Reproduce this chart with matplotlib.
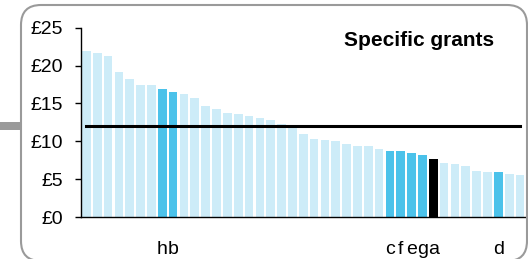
import matplotlib.pyplot as plt
from matplotlib.patches import FancyBboxPatch, Rectangle

plt.rcParams['font.family'] = ['Liberation Sans', 'DejaVu Sans']

# per-authority specific grant values (sorted), £
values = [21.9, 21.65, 21.25, 19.15, 18.2, 17.4, 17.4, 16.9, 16.5, 16.25,
          15.7, 14.65, 14.25, 13.75, 13.6, 13.35, 13.05, 12.8, 12.3, 11.95,
          10.95, 10.3, 10.15, 10.05, 9.65, 9.35, 9.35, 9.0, 8.7, 8.7,
          8.45, 8.2, 7.65, 7.15, 7.0, 6.75, 6.05, 5.95, 5.95, 5.7, 5.55]
labels = [""] * 41
labels[7] = "h"
labels[8] = "b"
labels[28] = "c"
labels[29] = "f"
labels[30] = "e"
labels[31] = "g"
labels[32] = "a"
labels[38] = "d"
average = 12.0

light = "#cdecf8"
dark = "#4bc2ea"
colors = []
for lab in labels:
    if lab == "a":
        colors.append("black")
    elif lab:
        colors.append(dark)
    else:
        colors.append(light)

fig = plt.figure(figsize=(5.28, 2.59), dpi=100)

# rounded frame and the grey connector on the left
frame = FancyBboxPatch((0.21, -0.02), 5.06, 2.56, boxstyle="round,pad=0,rounding_size=0.2",
                       transform=fig.dpi_scale_trans, fill=False, edgecolor="#9a9a9a", linewidth=1.5)
fig.patches.append(frame)
fig.patches.append(Rectangle((0, 1.29), 0.21, 0.08, transform=fig.dpi_scale_trans,
                             facecolor="#9a9a9a", edgecolor="none"))

ax = fig.add_axes([81/528, 42/259, 445/528, 189.3/259])
x = list(range(len(values)))
ax.bar(x, values, width=0.8, color=colors)
ax.plot(x, [average] * len(x), color="black", linewidth=2.2)

ax.set_xlim(-0.5, 40.55)
ax.set_ylim(0, 25)
ax.set_yticks([0, 5, 10, 15, 20, 25])
ax.set_yticklabels(["£0", "£5", "£10", "£15", "£20", "£25"])
ax.set_xticks(x)
ax.set_xticklabels(labels)
ax.tick_params(axis="y", length=4, width=1, pad=9, labelsize=14)
ax.tick_params(axis="x", length=0, pad=17, labelsize=14)
ax.spines["top"].set_visible(False)
ax.spines["right"].set_visible(False)
ax.spines["left"].set_linewidth(1)
ax.spines["bottom"].set_linewidth(1)
ax.patch.set_alpha(0)

fig.text(494/528, 1 - 46/259, "Specific grants", ha="right", va="baseline",
         fontsize=15, fontweight="bold")

fig.savefig("out.png", dpi=100)
